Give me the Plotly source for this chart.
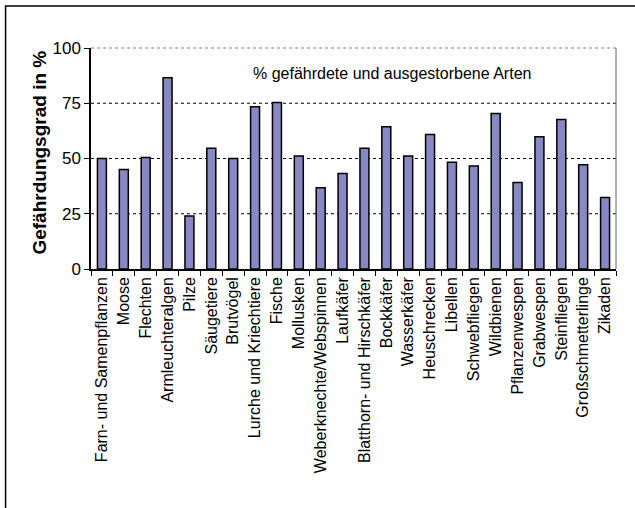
import plotly.graph_objects as go

categories = ["Farn- und Samenpflanzen", "Moose", "Flechten", "Armleuchteralgen", "Pilze",
              "Säugetiere", "Brutvögel", "Lurche und Kriechtiere", "Fische", "Mollusken",
              "Weberknechte/Webspinnen", "Laufkäfer", "Blatthorn- und Hirschkäfer", "Bockkäfer",
              "Wasserkäfer", "Heuschrecken", "Libellen", "Schwebfliegen", "Wildbienen",
              "Pflanzenwespen", "Grabwespen", "Steinfliegen", "Großschmetterlinge", "Zikaden"]
values = [50, 45, 50.5, 86.5, 24, 54.6, 50, 73.4, 75.3, 51.1,
          36.8, 43.2, 54.6, 64.4, 51.1, 60.9, 48.3, 46.6, 70.4,
          39.1, 59.8, 67.7, 47.2, 32.3]
y_ticks = [0, 25, 50, 75, 100]

W, H = 635, 508
L, R, T, B = 91, 616.5, 48, 269

fig = go.Figure(go.Bar(
    x=categories, y=values, width=0.41,
    marker=dict(color="rgb(136,136,196)", line=dict(color="black", width=1.5)),
))

font = "Liberation Sans, Arial, sans-serif"

def px2x(px):
    return (px - L) / (R - L)

def py2y(py):
    return (B - py) / (B - T)

fig.update_layout(
    width=W, height=H,
    margin=dict(l=L, r=W - R, t=T, b=H - B, pad=0),
    paper_bgcolor="white", plot_bgcolor="white",
    showlegend=False,
    font=dict(family=font, color="black"),
    xaxis=dict(
        type="category", tickangle=-90, tickfont=dict(size=16, family=font),
        showline=True, linecolor="black", linewidth=1.5,
        ticks="outside", ticklen=5, tickcolor="black", tickwidth=1.2,
        tickson="boundaries", showgrid=False, automargin=False,
    ),
    yaxis=dict(
        range=[0, 100], tickvals=y_ticks, ticktext=[str(v) for v in y_ticks],
        tickfont=dict(size=17, family=font),
        showline=True, linecolor="black", linewidth=1.5,
        ticks="outside", ticklen=5, tickcolor="black", tickwidth=1.2,
        showgrid=False, zeroline=False, automargin=False,
    ),
    annotations=[
        dict(text="% gefährdete und ausgestorbene Arten", x=px2x(392), y=py2y(73),
             xref="paper", yref="paper", showarrow=False, xanchor="center", yanchor="middle",
             font=dict(size=16, family=font, color="black")),
        dict(text="<b>Gefährdungsgrad in %</b>", x=px2x(39), y=py2y(152.5), textangle=-90,
             xref="paper", yref="paper", showarrow=False, xanchor="center", yanchor="middle",
             font=dict(size=19, family=font, color="black")),
    ],
)

shapes = []
for v in [25, 50, 75]:
    shapes.append(dict(type="line", xref="paper", yref="y", x0=0, x1=1, y0=v, y1=v,
                       line=dict(color="black", width=1.2, dash="dot"), layer="below"))
shapes.append(dict(type="line", xref="paper", yref="paper", x0=0, x1=1, y0=1, y1=1,
                   line=dict(color="gray", width=1.2, dash="dot")))
shapes.append(dict(type="line", xref="paper", yref="paper", x0=1, x1=1, y0=0, y1=1,
                   line=dict(color="gray", width=1.2)))
shapes.append(dict(type="rect", xref="paper", yref="paper",
                   x0=px2x(5.5), x1=px2x(700), y0=py2y(700), y1=py2y(6),
                   line=dict(color="black", width=1.5), fillcolor="rgba(0,0,0,0)"))
fig.update_layout(shapes=shapes)

fig.write_html("out.html")
